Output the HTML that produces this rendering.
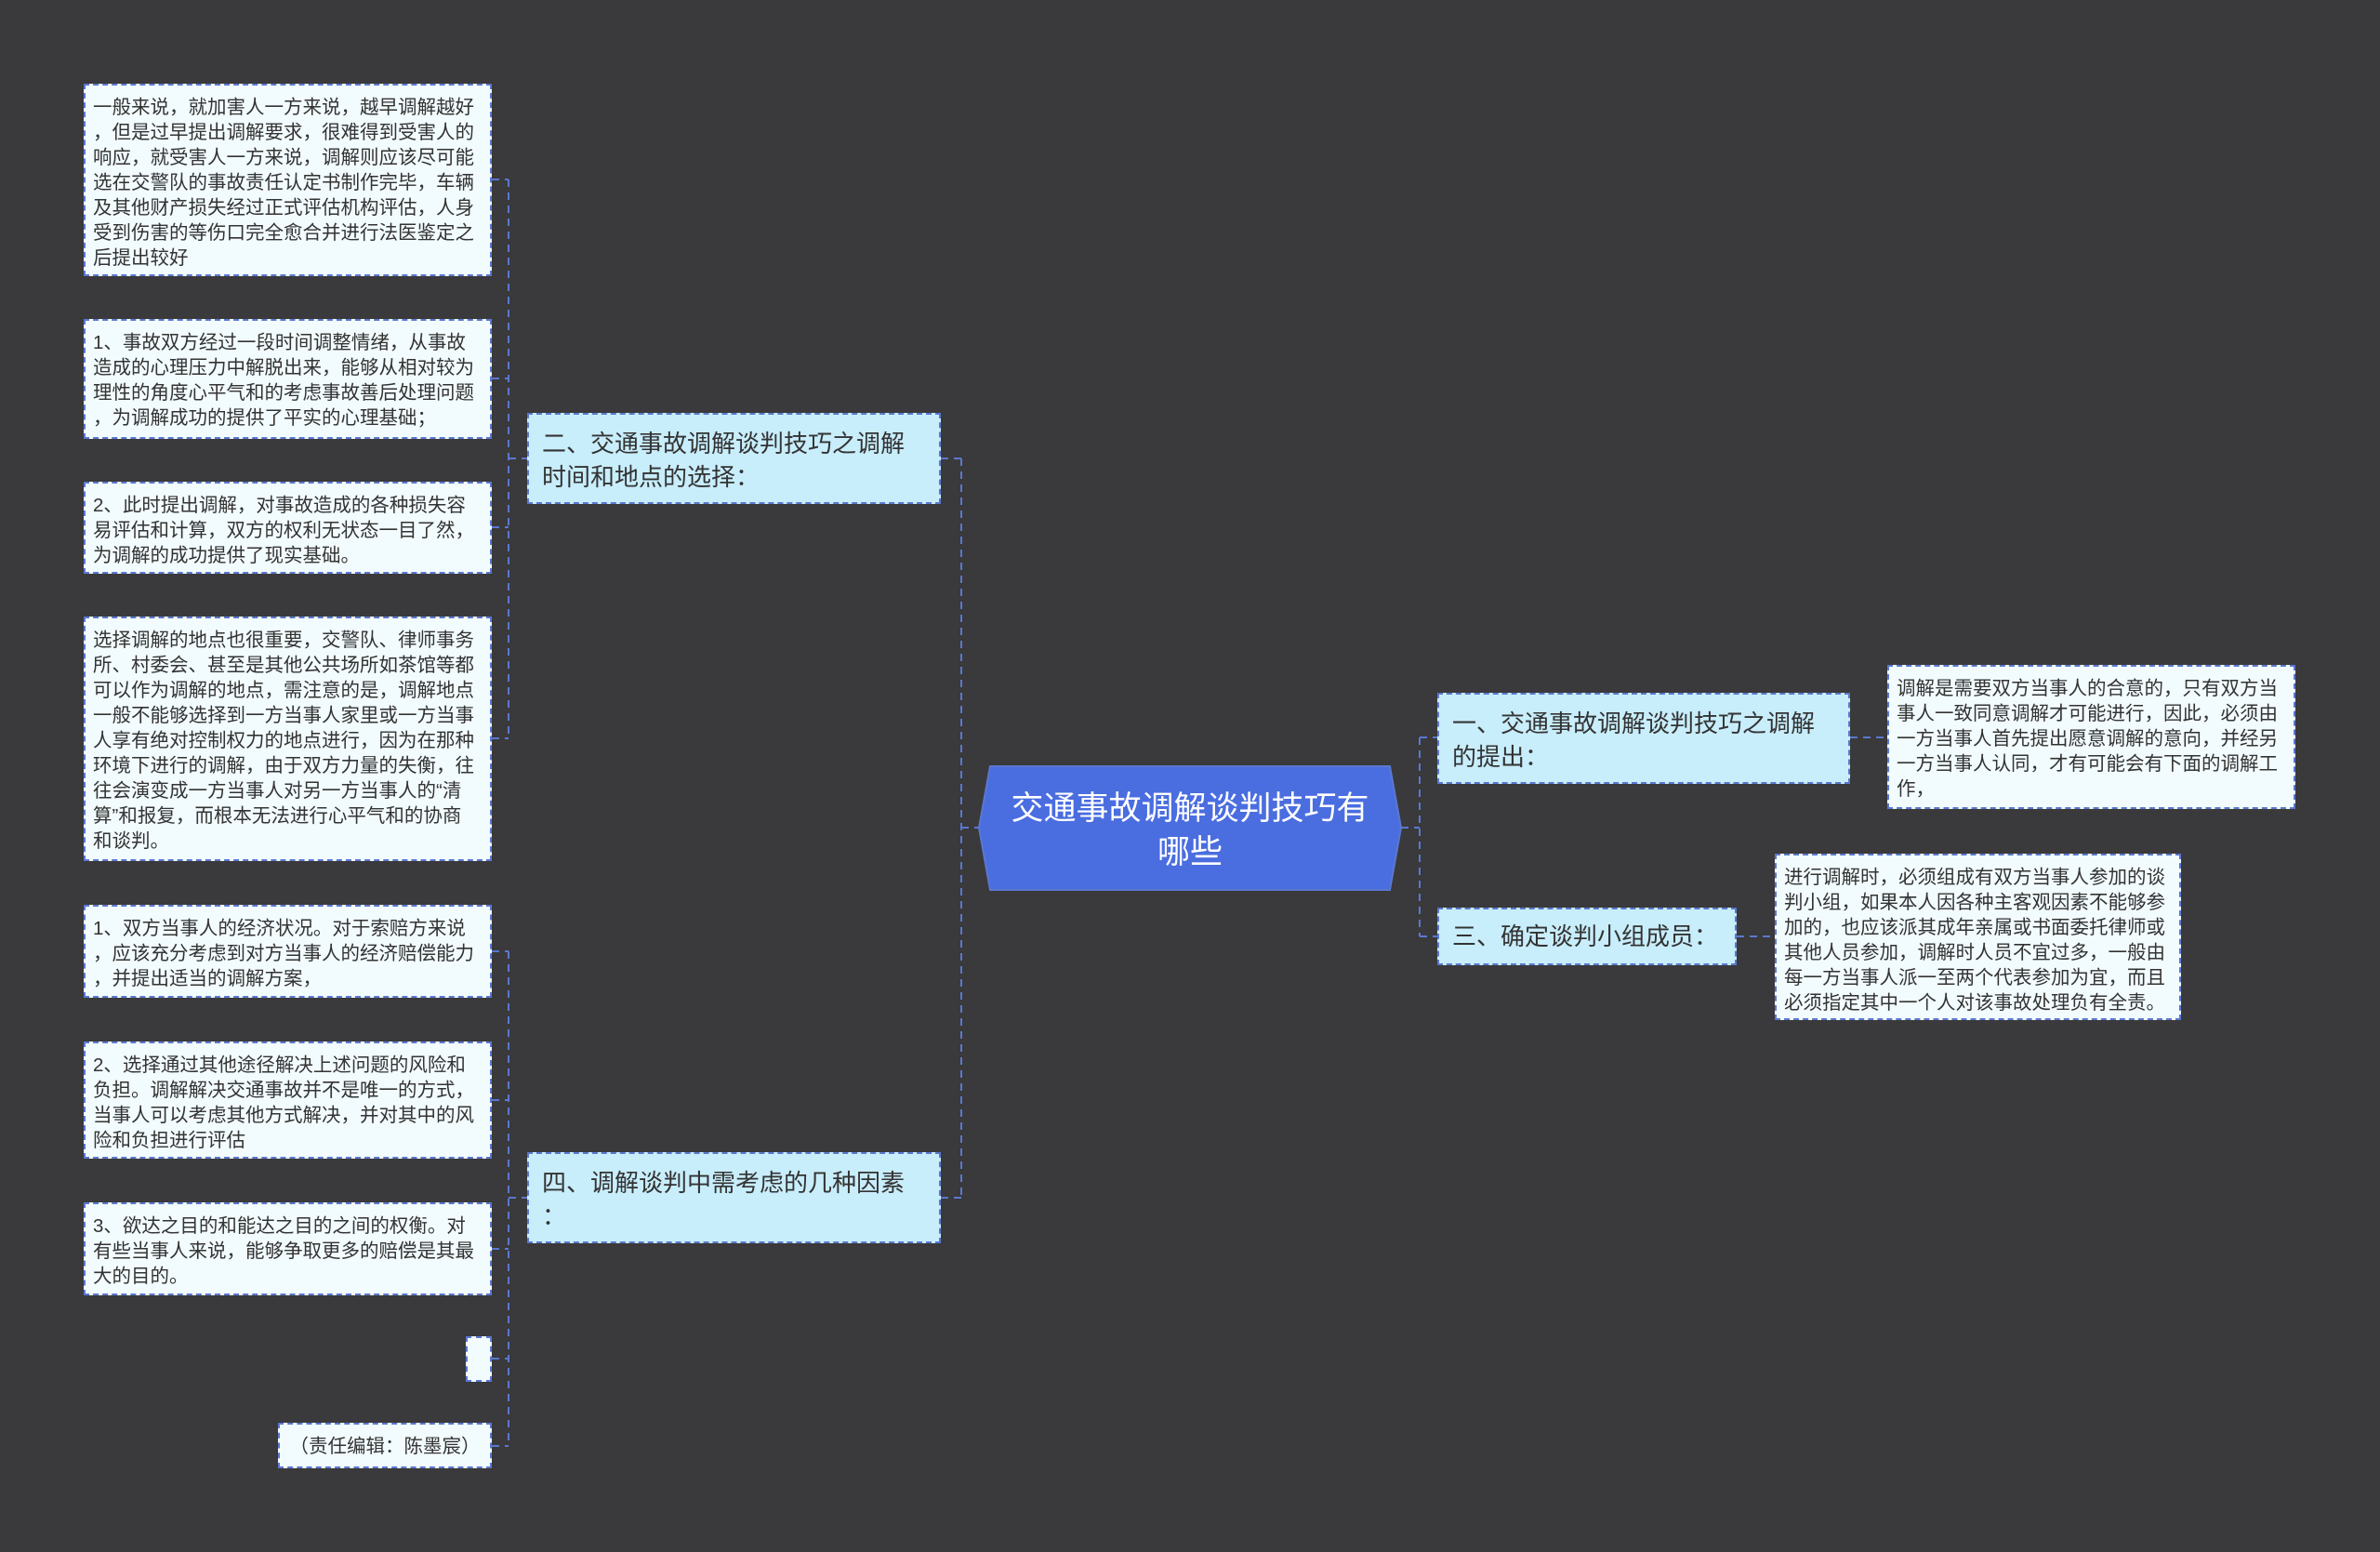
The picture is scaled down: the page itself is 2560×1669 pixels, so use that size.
<!DOCTYPE html>
<html><head><meta charset="utf-8"><style>
body{margin:0;width:2560px;height:1669px;background:#3a393b;overflow:hidden;position:relative;font-family:"Liberation Sans","Noto Sans CJK SC",sans-serif}
.b{position:absolute;box-sizing:border-box;border:2px dashed #5a78cf;white-space:nowrap}
.l{background:#f2fbfe;color:#333;font-size:20.5px;line-height:27px;padding:10px 8px 7px}
.s{background:#c8edfb;color:#333;font-size:26px;line-height:36px;padding:13px 14px}
svg{position:absolute;left:0;top:0}
</style></head><body>
<svg width="2560" height="1669">
<g stroke="#5a78cf" stroke-width="2" stroke-dasharray="8,6" fill="none">
<path d="M529 193H547M529 407H547M529 567H547M529 794H547M547 193V794M547 493H567"/>
<path d="M529 1023H547M529 1183H547M529 1343H547M529 1461H547M529 1555H547M547 1023V1555M547 1288H567"/>
<path d="M1012 493H1034M1012 1288H1034M1034 493V1288M1034 890H1053"/>
<path d="M1507 890H1527M1527 793V1007M1527 793H1546M1527 1007H1546"/>
<path d="M1990 793H2030M1868 1007H1909"/>
</g>
<polygon points="1065,824 1495,824 1507,890 1495,957 1065,957 1053,890" fill="#4a6de0" stroke="#5a78cf" stroke-width="2"/>
</svg>
<div style="position:absolute;left:1053px;top:826px;width:454px;height:133px;display:flex;align-items:center;justify-content:center;text-align:center;color:#fff;font-size:35px;line-height:47px">交通事故调解谈判技巧有<br>哪些</div>

<div class="b l" style="left:90px;top:90px;width:439px;height:207px">一般来说，就加害人一方来说，越早调解越好<br>，但是过早提出调解要求，很难得到受害人的<br>响应，就受害人一方来说，调解则应该尽可能<br>选在交警队的事故责任认定书制作完毕，车辆<br>及其他财产损失经过正式评估机构评估，人身<br>受到伤害的等伤口完全愈合并进行法医鉴定之<br>后提出较好</div>
<div class="b l" style="left:90px;top:343px;width:439px;height:129px"> 1、事故双方经过一段时间调整情绪，从事故<br>造成的心理压力中解脱出来，能够从相对较为<br>理性的角度心平气和的考虑事故善后处理问题<br>，为调解成功的提供了平实的心理基础；</div>
<div class="b l" style="left:90px;top:518px;width:439px;height:99px"> 2、此时提出调解，对事故造成的各种损失容<br>易评估和计算，双方的权利无状态一目了然，<br>为调解的成功提供了现实基础。</div>
<div class="b l" style="left:90px;top:663px;width:439px;height:263px">选择调解的地点也很重要，交警队、律师事务<br>所、村委会、甚至是其他公共场所如茶馆等都<br>可以作为调解的地点，需注意的是，调解地点<br>一般不能够选择到一方当事人家里或一方当事<br>人享有绝对控制权力的地点进行，因为在那种<br>环境下进行的调解，由于双方力量的失衡，往<br>往会演变成一方当事人对另一方当事人的“清<br>算”和报复，而根本无法进行心平气和的协商<br>和谈判。</div>
<div class="b l" style="left:90px;top:973px;width:439px;height:100px"> 1、双方当事人的经济状况。对于索赔方来说<br>，应该充分考虑到对方当事人的经济赔偿能力<br>，并提出适当的调解方案，</div>
<div class="b l" style="left:90px;top:1120px;width:439px;height:126px"> 2、选择通过其他途径解决上述问题的风险和<br>负担。调解解决交通事故并不是唯一的方式，<br>当事人可以考虑其他方式解决，并对其中的风<br>险和负担进行评估</div>
<div class="b l" style="left:90px;top:1293px;width:439px;height:100px"> 3、欲达之目的和能达之目的之间的权衡。对<br>有些当事人来说，能够争取更多的赔偿是其最<br>大的目的。</div>
<div class="b l" style="left:501px;top:1437px;width:28px;height:49px"></div>
<div class="b l" style="left:299px;top:1530px;width:230px;height:49px;text-align:center">（责任编辑：陈墨宸）</div>

<div class="b s" style="left:567px;top:444px;width:445px;height:98px">二、交通事故调解谈判技巧之调解<br>时间和地点的选择：</div>
<div class="b s" style="left:567px;top:1239px;width:445px;height:98px">四、调解谈判中需考虑的几种因素<br>：</div>
<div class="b s" style="left:1546px;top:745px;width:444px;height:98px">一、交通事故调解谈判技巧之调解<br>的提出：</div>
<div class="b s" style="left:1546px;top:976px;width:322px;height:62px;padding-top:11px">三、确定谈判小组成员：</div>

<div class="b l" style="left:2030px;top:715px;width:439px;height:155px">调解是需要双方当事人的合意的，只有双方当<br>事人一致同意调解才可能进行，因此，必须由<br>一方当事人首先提出愿意调解的意向，并经另<br>一方当事人认同，才有可能会有下面的调解工<br>作，</div>
<div class="b l" style="left:1909px;top:918px;width:437px;height:179px">进行调解时，必须组成有双方当事人参加的谈<br>判小组，如果本人因各种主客观因素不能够参<br>加的，也应该派其成年亲属或书面委托律师或<br>其他人员参加，调解时人员不宜过多，一般由<br>每一方当事人派一至两个代表参加为宜，而且<br>必须指定其中一个人对该事故处理负有全责。</div>
</body></html>
